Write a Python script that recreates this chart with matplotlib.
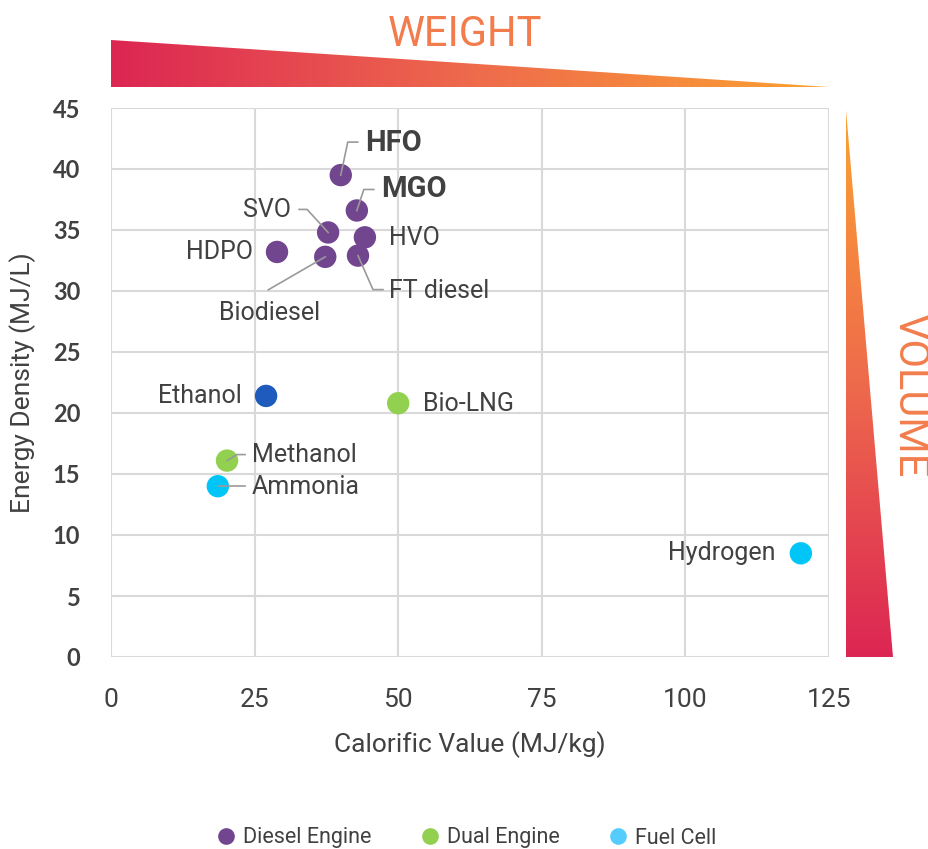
import matplotlib
matplotlib.use("Agg")
import matplotlib.pyplot as plt
from matplotlib.patches import Polygon
from matplotlib.lines import Line2D
from matplotlib.transforms import IdentityTransform
import numpy as np

NARROW = ["Roboto", "DejaVu Sans"]
ROUND = ["Lato", "DejaVu Sans"]
TEXT_COLOR = "#414141"
GRID_COLOR = "#d9d9d9"

# fuel properties: calorific value (MJ/kg) and energy density (MJ/L)
fuels = ["HFO", "MGO", "SVO", "HVO", "HDPO", "Biodiesel", "FT diesel",
         "Ethanol", "Bio-LNG", "Methanol", "Ammonia", "Hydrogen"]
calorific = [40.0, 42.8, 37.8, 44.2, 28.9, 37.3, 43.0, 27.0, 50.0, 20.2, 18.6, 120.1]
density = [39.5, 36.6, 34.8, 34.4, 33.2, 32.8, 32.9, 21.4, 20.8, 16.1, 14.0, 8.5]
engine = ["diesel", "diesel", "diesel", "diesel", "diesel", "diesel", "diesel",
          "ethanol", "dual", "dual", "fuelcell", "fuelcell"]

engine_colors = {"diesel": "#71468f", "dual": "#92d050",
                 "fuelcell": "#00c6f7", "ethanol": "#1f5bbd"}
legend_names = ["Diesel Engine", "Dual Engine", "Fuel Cell"]
legend_colors = ["#71468f", "#92d050", "#55cdfc"]

# label placement in pixels relative to each point: (dx, dy, ha, bold)
label_pos = {
    "HFO": (24, 32, "left", True),
    "MGO": (24, 21, "left", True),
    "SVO": (-37, 22, "right", False),
    "HVO": (24, -1, "left", False),
    "HDPO": (-24, 0, "right", False),
    "Biodiesel": (-56, -56, "center", False),
    "FT diesel": (31, -35, "left", False),
    "Ethanol": (-24, 0, "right", False),
    "Bio-LNG": (25, -1, "left", False),
    "Methanol": (25, 6, "left", False),
    "Ammonia": (34, -1, "left", False),
    "Hydrogen": (-25, 0, "right", False),
}
# leader lines in pixels relative to each point
leaders = {
    "HFO": [(0, 0), (7, 33), (17, 33)],
    "MGO": [(0, 0), (7, 21), (17, 21)],
    "SVO": [(0, 0), (-21, 23), (-29, 23)],
    "Biodiesel": [(0, 0), (-57, -33)],
    "FT diesel": [(0, 0), (15, -34), (25, -34)],
    "Methanol": [(0, 0), (10, 6), (18, 6)],
    "Ammonia": [(0, 0), (27, 0)],
}

W, H = 929, 849
fig = plt.figure(figsize=(W / 100, H / 100), dpi=100)
ax = fig.add_axes([111 / W, 1 - 657 / H, 718 / W, 549 / H])

ax.set_xlim(0, 125)
ax.set_ylim(0, 45)
ax.set_xticks([0, 25, 50, 75, 100, 125])
ax.set_yticks(range(0, 46, 5))
ax.grid(True, color=GRID_COLOR, lw=1.5)
ax.set_axisbelow(True)
for s in ax.spines.values():
    s.set_visible(False)
ax.tick_params(length=0, labelcolor=TEXT_COLOR)
ax.tick_params(axis="x", pad=22, labelsize=19, labelfontfamily=NARROW)
ax.tick_params(axis="y", pad=22, labelsize=17, labelfontfamily=ROUND)
for t in ax.get_yticklabels():
    t.set_fontweight("bold")

ax.set_xlabel("Calorific Value (MJ/kg)", family=NARROW, fontsize=19,
              color=TEXT_COLOR, labelpad=14)
ax.set_ylabel("Energy Density (MJ/L)", family=NARROW, fontsize=19,
              color=TEXT_COLOR, labelpad=12)

cols = [engine_colors[e] for e in engine]
ax.scatter(calorific, density, s=260, c=cols, edgecolors="none", zorder=3,
           clip_on=False)

fig.canvas.draw()
for name, x, y in zip(fuels, calorific, density):
    px, py = ax.transData.transform((x, y))
    dx, dy, ha, bold = label_pos[name]
    ax.annotate(name, (x, y), xytext=(dx, dy), textcoords="offset pixels",
                ha=ha, va="center", family=NARROW,
                fontsize=21 if bold else 18,
                fontweight="bold" if bold else "normal",
                color=TEXT_COLOR, zorder=5)
    if name in leaders:
        pts = np.array(leaders[name], dtype=float) + [px, py]
        fig.add_artist(Line2D(pts[:, 0], pts[:, 1], transform=IdentityTransform(),
                              color="#9a9a9a", lw=1.2, zorder=4))

# gradient wedges for weight and volume
bg = fig.add_axes([0, 0, 1, 1], zorder=-1)
bg.axis("off")
grad = matplotlib.colors.LinearSegmentedColormap.from_list(
    "wedge", ["#dc2653", "#ee6a4c", "#fca232"])

top = Polygon([(111, 40), (111, 87), (829, 87)], closed=True,
              transform=bg.transData, facecolor="none", edgecolor="none")
bg.add_patch(top)
im = bg.imshow(np.linspace(0, 1, 256)[None, :], cmap=grad, aspect="auto",
               extent=(111, 829, 87, 40))
im.set_clip_path(top)

side = Polygon([(846, 110), (846, 657), (893, 657)], closed=True,
               transform=bg.transData, facecolor="none", edgecolor="none")
bg.add_patch(side)
im2 = bg.imshow(np.linspace(1, 0, 256)[:, None], cmap=grad, aspect="auto",
                extent=(846, 893, 657, 110))
im2.set_clip_path(side)
bg.set_xlim(0, W)
bg.set_ylim(H, 0)

fig.text(465 / W, 1 - 35 / H, "WEIGHT", ha="center", va="center",
         fontsize=30, color="#f27c4c", family=NARROW)
fig.text(910 / W, 1 - 395 / H, "VOLUME", ha="center", va="center", rotation=-90,
         fontsize=30, color="#f27c4c", family=NARROW)

handles = [Line2D([], [], ls="none", marker="o", ms=12, mfc=c, mec="none")
           for c in legend_colors]
fig.legend(handles, legend_names, loc="center", bbox_to_anchor=(466 / W, 1 - 838 / H),
           ncol=3, frameon=False, prop={"family": NARROW, "size": 15.5},
           labelcolor=TEXT_COLOR, handletextpad=0.3, columnspacing=2.2,
           handlelength=1.0)

fig.savefig("out.png", dpi=100)
